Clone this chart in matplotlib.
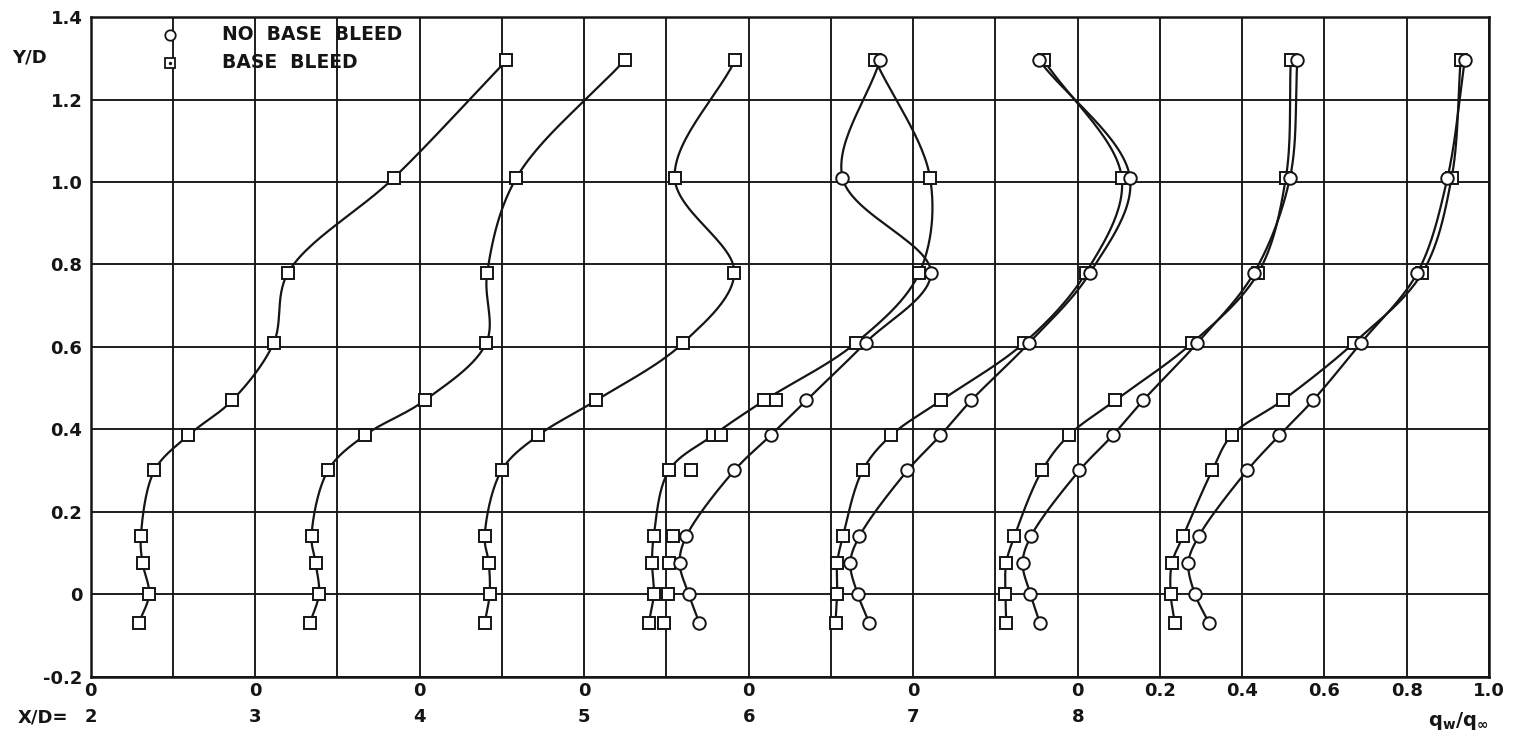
import numpy as np
import matplotlib
matplotlib.use("Agg")
import matplotlib.pyplot as plt
from matplotlib.transforms import blended_transform_factory

# Y/D survey heights (shared by every station)
y_levels = [-0.07, 0.0, 0.075, 0.14, 0.30, 0.385, 0.47, 0.61, 0.78, 1.01, 1.295]

# q_w/q_inf with base bleed, one list per X/D station
stations = [2, 3, 4, 5, 6, 7, 8]
bleed = {
    2: [0.117, 0.142, 0.126, 0.122, 0.155, 0.237, 0.344, 0.445, 0.480, 0.737, 1.011],
    3: [0.133, 0.155, 0.147, 0.137, 0.177, 0.266, 0.412, 0.562, 0.564, 0.635, 0.898],
    4: [0.158, 0.170, 0.168, 0.158, 0.199, 0.288, 0.429, 0.641, 0.765, 0.620, 0.767],
    5: [0.157, 0.169, 0.165, 0.169, 0.206, 0.313, 0.438, 0.661, 0.815, 0.841, 0.708],
    6: [0.211, 0.215, 0.215, 0.229, 0.277, 0.346, 0.468, 0.670, 0.820, 0.907, 0.718],
    7: [0.226, 0.224, 0.226, 0.246, 0.313, 0.378, 0.491, 0.679, 0.839, 0.906, 0.918],
    8: [0.236, 0.226, 0.229, 0.256, 0.327, 0.374, 0.498, 0.672, 0.838, 0.909, 0.931],
}

# q_w/q_inf without base bleed
no_bleed = {
    5: [0.280, 0.254, 0.232, 0.248, 0.365, 0.453, 0.540, 0.684, 0.843, 0.628, 0.719],
    6: [0.293, 0.265, 0.247, 0.269, 0.386, 0.466, 0.541, 0.682, 0.830, 0.927, 0.706],
    7: [0.308, 0.285, 0.266, 0.286, 0.404, 0.485, 0.559, 0.691, 0.829, 0.916, 0.934],
    8: [0.319, 0.285, 0.269, 0.294, 0.412, 0.490, 0.572, 0.689, 0.826, 0.899, 0.941],
}

# additional base-bleed readings at X/D = 5 (plotted without a fairing curve)
extra_y = [-0.07, 0.0, 0.075, 0.14, 0.30, 0.385, 0.47]
extra_q5 = [0.195, 0.203, 0.206, 0.217, 0.260, 0.333, 0.467]

station_shift = 0.4          # each station's zero is shifted by this much
ytick_labels = ["-0.2", "0", "0.2", "0.4", "0.6", "0.8", "1.0", "1.2", "1.4"]
right_labels = ["0.2", "0.4", "0.6", "0.8", "1.0"]

INK = "#151515"


def fair_curve(xs, ys, n=30):
    """Centripetal Catmull-Rom curve through the given points."""
    P = np.column_stack([xs, ys]).astype(float)
    P = np.vstack([2 * P[0] - P[1], P, 2 * P[-1] - P[-2]])
    out = []
    for i in range(1, len(P) - 2):
        p0, p1, p2, p3 = P[i - 1], P[i], P[i + 1], P[i + 2]
        t0 = 0.0
        t1 = t0 + max(np.linalg.norm(p1 - p0), 1e-9) ** 0.5
        t2 = t1 + max(np.linalg.norm(p2 - p1), 1e-9) ** 0.5
        t3 = t2 + max(np.linalg.norm(p3 - p2), 1e-9) ** 0.5
        t = np.linspace(t1, t2, n)[:, None]
        a1 = (t1 - t) / (t1 - t0) * p0 + (t - t0) / (t1 - t0) * p1
        a2 = (t2 - t) / (t2 - t1) * p1 + (t - t1) / (t2 - t1) * p2
        a3 = (t3 - t) / (t3 - t2) * p2 + (t - t2) / (t3 - t2) * p3
        b1 = (t2 - t) / (t2 - t0) * a1 + (t - t0) / (t2 - t0) * a2
        b2 = (t3 - t) / (t3 - t1) * a2 + (t - t1) / (t3 - t1) * a3
        c = (t2 - t) / (t2 - t1) * b1 + (t - t1) / (t2 - t1) * b2
        out.append(c if i == 1 else c[1:])
    c = np.vstack(out)
    return c[:, 0], c[:, 1]


plt.rcParams["font.family"] = ["DejaVu Sans"]
plt.rcParams["font.weight"] = "bold"

fig = plt.figure(figsize=(15.15, 7.39), dpi=100)
ax = fig.add_axes([90.7 / 1515, 1 - 676.5 / 739, (1489 - 90.7) / 1515, (676.5 - 17.2) / 739])
ax.set_xlim(0, 3.4)
ax.set_ylim(-0.2, 1.4)

ax.set_xticks(np.arange(0, 3.41, 0.2))
ax.set_yticks(np.arange(-0.2, 1.41, 0.2))
ax.grid(True, color=INK, lw=1.35)
ax.set_axisbelow(True)
for s in ax.spines.values():
    s.set_color(INK)
    s.set_linewidth(1.8)
ax.tick_params(length=0, labelbottom=False, pad=6, labelsize=13, labelcolor=INK)
ax.set_yticklabels(ytick_labels, fontweight="bold")

mk = dict(markersize=9, markeredgewidth=1.4, markeredgecolor=INK,
          markerfacecolor="white", linestyle="none")

for k in stations:
    off = station_shift * (k - 2)
    xs = np.array(bleed[k]) + off
    cx, cy = fair_curve(xs, y_levels)
    ax.plot(cx, cy, color=INK, lw=1.6, zorder=3)
    if k in no_bleed:
        xc = np.array(no_bleed[k]) + off
        cx, cy = fair_curve(xc, y_levels)
        ax.plot(cx, cy, color=INK, lw=1.6, zorder=3)

for k in stations:
    off = station_shift * (k - 2)
    ax.plot(np.array(bleed[k]) + off, y_levels, marker="s", zorder=4, **mk)
    if k == 5:
        ax.plot(np.array(extra_q5) + off, extra_y, marker="s", zorder=4, **mk)
for k in no_bleed:
    off = station_shift * (k - 2)
    ax.plot(np.array(no_bleed[k]) + off, y_levels, marker="o", zorder=5, **mk)

# legend, drawn by hand in axes coordinates
lg = dict(markersize=7.5, markeredgewidth=1.3, markeredgecolor=INK,
          markerfacecolor="white", linestyle="none", transform=ax.transAxes,
          clip_on=False, zorder=6)
lx = (170 - 90.7) / (1489 - 90.7)
ly1 = (676.5 - 35) / (676.5 - 17.2)
ly2 = (676.5 - 63) / (676.5 - 17.2)
ax.plot([lx], [ly1], marker="o", **lg)
ax.plot([lx], [ly2], marker="s", **lg)
ax.plot([lx], [ly2], marker="o", markersize=1.4, color=INK,
        transform=ax.transAxes, zorder=7)
tx = (222 - 90.7) / (1489 - 90.7)
ax.text(tx, ly1, "NO  BASE  BLEED", transform=ax.transAxes, fontsize=13.5,
        fontweight="bold", va="center", ha="left", color=INK)
ax.text(tx, ly2, "BASE  BLEED", transform=ax.transAxes, fontsize=13.5,
        fontweight="bold", va="center", ha="left", color=INK)

# axis annotations
trans = blended_transform_factory(ax.transData, fig.transFigure)
y_zero_row = 1 - 691 / 739
y_station_row = 1 - 717 / 739
for k in stations:
    off = station_shift * (k - 2)
    ax.text(off, y_zero_row, "0", transform=trans, ha="center", va="center",
            fontsize=13, fontweight="bold", color=INK)
    ax.text(off, y_station_row, str(k), transform=trans, ha="center", va="center",
            fontsize=13, fontweight="bold", color=INK)
ax.text(-0.055, y_station_row, "X/D=", transform=trans, ha="right", va="center",
        fontsize=13, fontweight="bold", color=INK)
for i, lab in enumerate(right_labels):
    ax.text(2.6 + 0.2 * i, y_zero_row, lab, transform=trans, ha="center",
            va="center", fontsize=13, fontweight="bold", color=INK)
ax.text(3.4, 1 - 721 / 739, r"$\mathbf{q_w/q_\infty}$", transform=trans,
        ha="right", va="center", fontsize=14, color=INK)
fig.text(12 / 1515, 1 - 57 / 739, "Y/D", ha="left", va="center", fontsize=13,
         fontweight="bold", color=INK)

fig.savefig("out.png", dpi=100, facecolor="white")
